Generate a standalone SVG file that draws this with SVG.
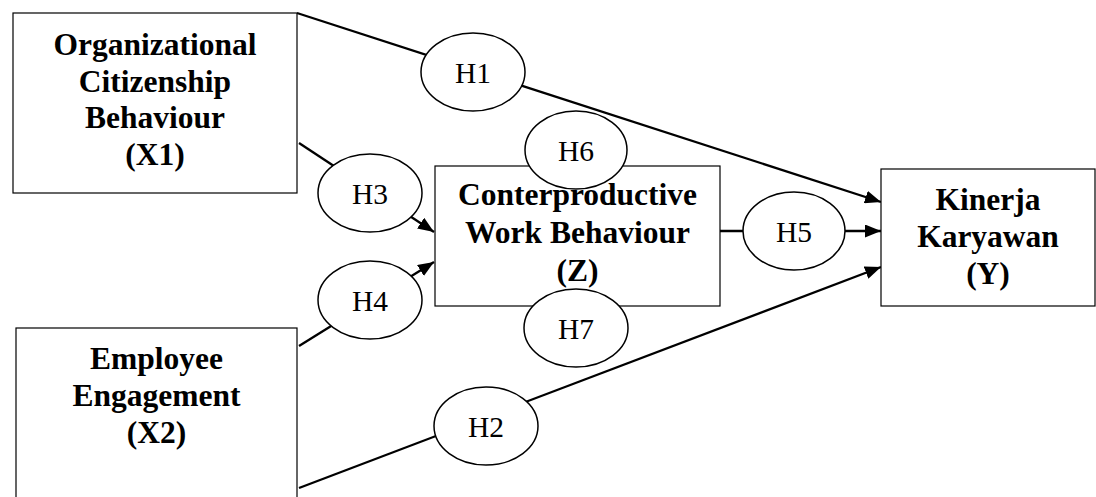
<svg xmlns="http://www.w3.org/2000/svg" width="1096" height="497" viewBox="0 0 1096 497">
<style>
.box{fill:#fff;stroke:#000;stroke-width:1.2}
.hyp{fill:#fff;stroke:#000;stroke-width:1.5}
.con{fill:none;stroke:#000;stroke-width:2.3}
.bt{font-family:"Liberation Serif","Times New Roman",serif;font-weight:bold;font-size:31.5px;text-anchor:middle;fill:#000}
.ht{font-family:"Liberation Serif","Times New Roman",serif;font-size:29.5px;text-anchor:middle;fill:#000}
</style>
<defs>
<marker id="arr" viewBox="0 0 16 13" refX="16" refY="6.5" markerWidth="16" markerHeight="13" markerUnits="userSpaceOnUse" orient="auto">
<path d="M0,0 L16,6.5 L0,13 Z" fill="#000"/>
</marker>
</defs>
<rect width="1096" height="497" fill="#fff"/>
<g id="connectors">
<line class="con" x1="297" y1="13" x2="881" y2="202" marker-end="url(#arr)"/>
<line class="con" x1="299" y1="143" x2="434" y2="232" marker-end="url(#arr)"/>
<line class="con" x1="299" y1="346" x2="434" y2="262" marker-end="url(#arr)"/>
<line class="con" x1="720" y1="231" x2="881" y2="231" marker-end="url(#arr)"/>
<line class="con" x1="299" y1="488" x2="881" y2="267" marker-end="url(#arr)"/>
</g>
<g id="X1">
<rect class="box" x="13" y="13" width="284" height="180"/>
<text class="bt" x="155" y="55">Organizational</text>
<text class="bt" x="155" y="92">Citizenship</text>
<text class="bt" x="155" y="128">Behaviour</text>
<text class="bt" x="155" y="165">(X1)</text>
</g>
<g id="X2">
<rect class="box" x="16" y="328" width="281" height="190"/>
<text class="bt" x="156.5" y="369">Employee</text>
<text class="bt" x="156.5" y="406">Engagement</text>
<text class="bt" x="156.5" y="443">(X2)</text>
</g>
<g id="Z">
<rect class="box" x="435" y="166" width="285" height="140"/>
<text class="bt" x="577.5" y="205">Conterproductive</text>
<text class="bt" x="577.5" y="243">Work Behaviour</text>
<text class="bt" x="577.5" y="281">(Z)</text>
</g>
<g id="Y">
<rect class="box" x="881" y="169" width="214" height="137"/>
<text class="bt" x="988" y="210">Kinerja</text>
<text class="bt" x="988" y="247">Karyawan</text>
<text class="bt" x="988" y="284">(Y)</text>
</g>
<g id="H1">
<ellipse class="hyp" cx="473" cy="72" rx="52" ry="39"/>
<text class="ht" x="473" y="83">H1</text>
</g>
<g id="H6">
<ellipse class="hyp" cx="576" cy="150" rx="51" ry="39"/>
<text class="ht" x="576" y="161">H6</text>
</g>
<g id="H3">
<ellipse class="hyp" cx="370" cy="193" rx="52" ry="39"/>
<text class="ht" x="370" y="204">H3</text>
</g>
<g id="H4">
<ellipse class="hyp" cx="370" cy="300" rx="52" ry="39"/>
<text class="ht" x="370" y="311">H4</text>
</g>
<g id="H5">
<ellipse class="hyp" cx="794" cy="231" rx="51" ry="39"/>
<text class="ht" x="794" y="242">H5</text>
</g>
<g id="H7">
<ellipse class="hyp" cx="576" cy="328" rx="52" ry="39"/>
<text class="ht" x="576" y="339">H7</text>
</g>
<g id="H2">
<ellipse class="hyp" cx="486" cy="426" rx="52" ry="39"/>
<text class="ht" x="486" y="437">H2</text>
</g>
</svg>
